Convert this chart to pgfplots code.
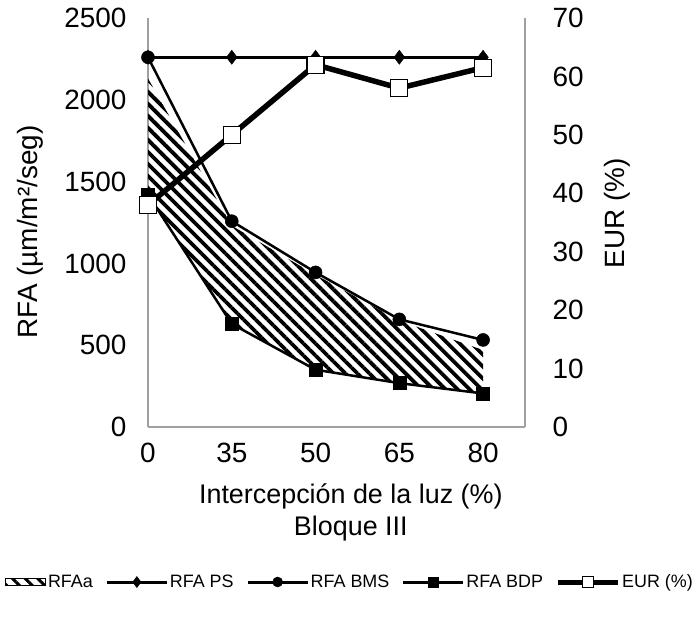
\documentclass[border=0pt]{standalone}
\usepackage{pgfplots}
\pgfplotsset{compat=1.18}
\usepackage{fontspec}
\setmainfont{Liberation Sans}
\usetikzlibrary{patterns.meta}
\definecolor{axgray}{RGB}{160,160,160}
\begin{document}
\begin{tikzpicture}
\useasboundingbox (0bp,0bp) rectangle (700bp,617bp);
\pgfplotsset{
  myaxis/.style={
    scale only axis, width=377bp, height=409bp,
    at={(148bp,190bp)}, anchor=south west,
    xmin=0, xmax=4.5,
    xtick={0,1,2,3,4},
    major tick length=0pt,
    axis line style={-, draw=axgray, line width=1.2bp},
    tick label style={font=\fontsize{28}{33}\selectfont},
    /pgf/number format/assume math mode=true,
    /pgf/number format/1000 sep={},
    scaled ticks=false,
    clip=false,
  }
}
\begin{axis}[myaxis,
  axis x line*=bottom, axis y line*=left,
  ymin=0, ymax=2500, ytick={0,500,...,2500},
  xticklabels={0,35,50,65,80},
  xticklabel style={yshift=-13bp},
  yticklabel style={xshift=-18bp},
  ylabel={RFA (µm/m²/seg)},
  ylabel style={at={(axis description cs:-0.313,0.477)}, anchor=center, font=\fontsize{28}{33}\selectfont},
  xlabel={Intercepción de la luz (\%)\\Bloque III},
  xlabel style={at={(axis description cs:0.538,-0.208)}, anchor=center, align=center, font=\fontsize{27}{32}\selectfont},
]
% RFAa hatched area (upper edge then lower edge)
\addplot[draw=none, pattern={Lines[angle=-45,distance=8.5bp,line width=3.8bp]}, pattern color=black, forget plot]
  coordinates {(0,2130) (1,1230) (2,930) (3,650) (4,470) (4,205) (3,265) (2,350) (1,625) (0,1420)};
% RFA BDP
\addplot[black, line width=2.5bp, mark=square*, mark size=6.5bp, mark options={solid, fill=black, line width=0.5bp}]
  coordinates {(0,1420) (1,630) (2,350) (3,268) (4,205)};
% RFA BMS
\addplot[black, line width=2.5bp, mark=*, mark size=6.5bp, mark options={solid, fill=black, line width=0.5bp}]
  coordinates {(0,2260) (1,1258) (2,945) (3,658) (4,532)};
% RFA PS
\addplot[black, line width=3bp, mark=diamond*, mark size=7bp, mark options={solid, fill=black, line width=0.5bp}]
  coordinates {(0,2260) (1,2260) (2,2260) (3,2260) (4,2260)};
\end{axis}
\begin{axis}[myaxis,
  axis y line*=right, axis x line=none,
  ymin=0, ymax=70, ytick={0,10,...,70},
  yticklabel style={xshift=24bp},
  ylabel={EUR (\%)},
  ylabel style={at={(axis description cs:1.244,0.523)}, anchor=center, font=\fontsize{28}{33}\selectfont},
  legend image code/.code={\draw[mark repeat=2,mark phase=2,#1] plot coordinates {(0bp,0bp) (30bp,0bp) (60bp,0bp)};},
  legend style={font=\fontsize{18}{21}\selectfont, draw=none, fill=none, legend columns=-1,
    nodes={inner sep=1.5bp},
    /tikz/every even column/.append style={column sep=11bp},
    at={(0.533,-0.379)}, anchor=center},
]
% EUR (%)
\addplot[black, line width=5.5bp, mark=square*, mark size=8.5bp, mark options={solid, fill=white, draw=black, line width=1.2bp}, forget plot]
  coordinates {(0,38) (1,50) (2,62) (3,58) (4,61.5)};
\addlegendimage{legend image code/.code={\fill[pattern={Lines[angle=-45,distance=9bp,line width=3bp]}, pattern color=black] (0bp,-3.5bp) rectangle (40bp,3.5bp);}}
\addlegendentry{RFAa}
\addlegendimage{black, line width=3bp, mark=diamond*, mark size=5.5bp, mark options={solid, fill=black, line width=0.5bp}}
\addlegendentry{RFA PS}
\addlegendimage{black, line width=3bp, mark=*, mark size=5bp, mark options={solid, fill=black, line width=0.5bp}}
\addlegendentry{RFA BMS}
\addlegendimage{black, line width=3bp, mark=square*, mark size=5bp, mark options={solid, fill=black, line width=0.5bp}}
\addlegendentry{RFA BDP}
\addlegendimage{black, line width=5bp, mark=square*, mark size=5.5bp, mark options={solid, fill=white, draw=black, line width=1bp}}
\addlegendentry{EUR (\%)}
\end{axis}
\end{tikzpicture}
\end{document}
